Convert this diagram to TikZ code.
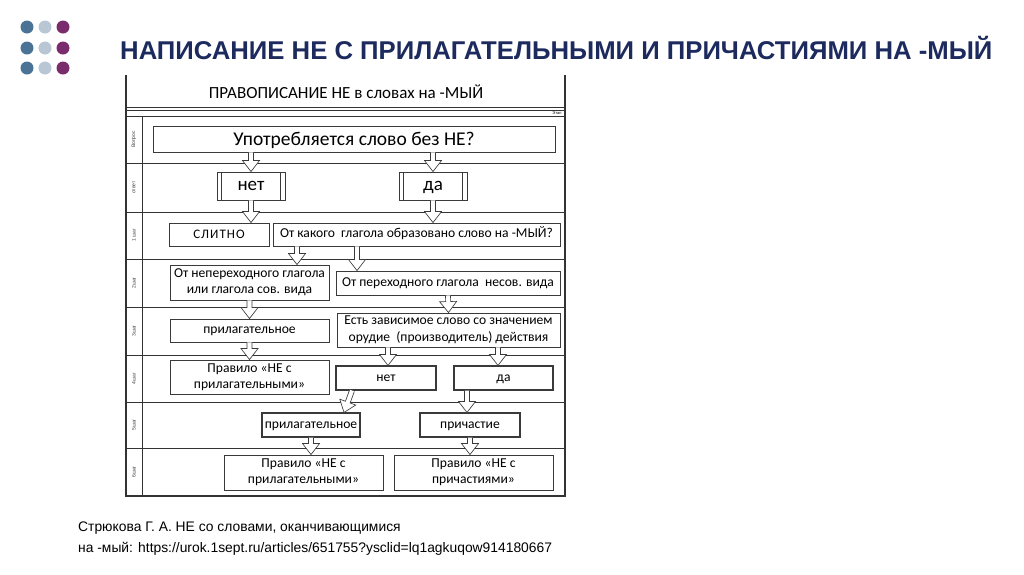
\documentclass[tikz,border=0pt]{standalone}
\usepackage{fontspec}
\setmainfont{Carlito}
\newfontfamily\headfont{Liberation Sans}
\usetikzlibrary{calc}
\definecolor{slidenavy}{HTML}{1C2A5E}
\definecolor{dotblue}{HTML}{4A7396}
\definecolor{dotgrey}{HTML}{B9C6D3}
\definecolor{dotplum}{HTML}{7A2D6C}
\definecolor{boxline}{HTML}{3A3A3A}

% hollow block arrow between two points
\newcommand{\flowarrow}[2]{%
	\coordinate (fs) at (#1);
	\coordinate (fe) at (#2);
	\coordinate (fh) at ($(fe)!11pt!(fs)$);
	\draw[hollow] ($(fs)!2.5pt!90:(fe)$) -- ($(fh)!2.5pt!90:(fe)$) -- ($(fh)!8.5pt!90:(fe)$)
		-- (fe) -- ($(fh)!8.5pt!-90:(fe)$) -- ($(fh)!2.5pt!-90:(fe)$) -- ($(fs)!2.5pt!-90:(fe)$);
}

\begin{document}
\begin{tikzpicture}[
		x=1pt, y=-1pt,
		every node/.style={
			align=center, inner sep=1pt,
			font=\fontsize{13.6}{16}\selectfont
		},
		stepbox/.style={draw=boxline, line width=0.9pt, rectangle, minimum height=23pt},
		oneline/.style={text height=7pt, text depth=0.5pt},
		answerbox/.style={
			stepbox, text height=9pt, text depth=0pt, minimum width=68pt, minimum height=28pt,
			font=\fontsize{19}{22}\selectfont,
			path picture={
				\draw[boxline, line width=0.7pt]
				([xshift=4.5pt]path picture bounding box.north west) -- ([xshift=4.5pt]path picture bounding box.south west)
				([xshift=-4.5pt]path picture bounding box.north east) -- ([xshift=-4.5pt]path picture bounding box.south east);
			}
		},
		rowlabel/.style={rotate=90, font=\headfont\fontsize{5}{6}\selectfont, text=black!75},
		hollow/.style={draw=boxline, line width=0.65pt, fill=white, line join=miter},
		frame/.style={draw=black!80, line width=0.8pt}
	]
	
	\fill[white] (0,0) rectangle (1024,574);
	\useasboundingbox (0,0) rectangle (1024,574);
	
	% slide dots and heading
	\foreach \r in {27,48,68} {
		\fill[dotblue] (27,\r) circle (6.5);
		\fill[dotgrey] (45,\r) circle (6.5);
		\fill[dotplum] (63,\r) circle (6.5);
	}
	\node[anchor=west, inner sep=0, text=slidenavy,
		font=\headfont\bfseries\fontsize{25.7}{30}\selectfont] (title) at (120,48)
		{НАПИСАНИЕ НЕ С ПРИЛАГАТЕЛЬНЫМИ И ПРИЧАСТИЯМИ НА -МЫЙ};
	
	% table frame
	\draw[frame, line width=1.3pt] (126,75) -- (126,496) -- (565,496) -- (565,75);
	\draw[frame] (126,107) -- (565,107) (126,110) -- (565,110) (126,116) -- (565,116);
	\draw[frame] (142,116) -- (142,496);
	\foreach \y in {163,212,259,307,355,402,448}
		\draw[frame] (126,\y) -- (565,\y);
	\node[font=\fontsize{17}{20}\selectfont] (tabhead) at (346,92) {ПРАВОПИСАНИЕ НЕ в словах на -МЫЙ};
	\node[font=\headfont\fontsize{4}{5}\selectfont, inner sep=0] (stagehead) at (557,113) {Этап};
	\foreach \lab/\yc [count=\i] in {Вопрос/139.5, ответ/187.5, 1 шаг/235.5, 2шаг/283,
		3шаг/331, 4шаг/378.5, 5шаг/425, 6шаг/472}
		\node[rowlabel] (row\i) at (134,\yc) {\lab};
	
	% boxes
	\node[stepbox, minimum width=402pt, minimum height=26pt, text height=12.5pt, text depth=0pt,
		font=\fontsize{19.5}{22}\selectfont] (q) at (354,139) {Употребляется слово без НЕ?};
	\node[answerbox] (n1) at (251,186) {нет};
	\node[answerbox] (d1) at (433,186) {да};
	\node[stepbox, minimum width=100pt, text height=8.4pt, text depth=0pt,
		font=\fontsize{13}{15}\selectfont\addfontfeature{LetterSpace=8}] (sl) at (219,234.5) {СЛИТНО};
	\node[stepbox, oneline, minimum width=287pt] (q2) at (416.5,234.5) {От какого\ \ глагола образовано слово на -МЫЙ?};
	\node[stepbox, minimum width=159pt, minimum height=35pt] (intr) at (249.5,282.5) {От непереходного глагола\\или глагола сов. вида};
	\node[stepbox, oneline, minimum width=224pt, minimum height=24pt] (tr) at (448,283) {От переходного глагола\ \ несов. вида};
	\node[stepbox, oneline, minimum width=159pt] (adj1) at (249.5,330.5) {прилагательное};
	\node[stepbox, minimum width=223pt, minimum height=34pt, font=\fontsize{13.6}{17}\selectfont] (dep) at (448.5,330) {Есть зависимое слово со значением\\орудие\ \ (производитель) действия};
	\node[stepbox, minimum width=159pt, minimum height=34pt] (rule1) at (249.5,377) {Правило «НЕ с\\прилагательными»};
	\node[stepbox, oneline, minimum width=100pt, minimum height=24pt, line width=1.1pt] (n2) at (386,378) {нет};
	\node[stepbox, oneline, minimum width=99pt, minimum height=24pt, line width=1.1pt] (d2) at (503.5,378) {да};
	\node[stepbox, oneline, minimum width=98pt, minimum height=24pt, line width=1.1pt] (adj2) at (311,425) {прилагательное};
	\node[stepbox, oneline, minimum width=100pt, minimum height=24pt, line width=1.1pt] (part) at (470,425) {причастие};
	\node[stepbox, minimum width=159pt, minimum height=35pt] (rule2) at (303.5,472.5) {Правило «НЕ с\\прилагательными»};
	\node[stepbox, minimum width=159pt, minimum height=35pt] (rule3) at (473.5,472.5) {Правило «НЕ с\\причастиями»};
	
	% arrows
	\coordinate (c1) at (297,0);
	\coordinate (c2) at (357,0);
	\coordinate (c3) at (388,0);
	\coordinate (c4) at (498,0);
	\coordinate (c5) at (352,0);
	\coordinate (c6) at (344,0);
	\coordinate (c7) at (467,0);
	\flowarrow{q.south -| n1}{n1.north}
	\flowarrow{q.south -| d1}{d1.north}
	\flowarrow{n1.south}{sl.north -| n1}
	\flowarrow{d1.south}{q2.north -| d1}
	\flowarrow{q2.south -| c1}{intr.north -| c1}
	\flowarrow{q2.south -| c2}{tr.north -| c2}
	\flowarrow{intr.south}{adj1.north}
	\flowarrow{tr.south}{dep.north}
	\flowarrow{adj1.south}{rule1.north}
	\flowarrow{dep.south -| c3}{n2.north -| c3}
	\flowarrow{dep.south -| c4}{d2.north -| c4}
	\flowarrow{n2.south -| c5}{adj2.north -| c6}
	\flowarrow{d2.south -| c7}{part.north -| c7}
	\flowarrow{adj2.south}{rule2.north -| adj2}
	\flowarrow{part.south}{rule3.north -| part}
	
	% source
	\node[anchor=north west, align=left, inner sep=0,
		font=\headfont\fontsize{13.85}{21}\selectfont] (source) at (78,522)
		{Стрюкова Г. А. НЕ со словами, оканчивающимися\\на -мый: https://urok.1sept.ru/articles/651755?ysclid=lq1agkuqow914180667};
\end{tikzpicture}
\end{document}
